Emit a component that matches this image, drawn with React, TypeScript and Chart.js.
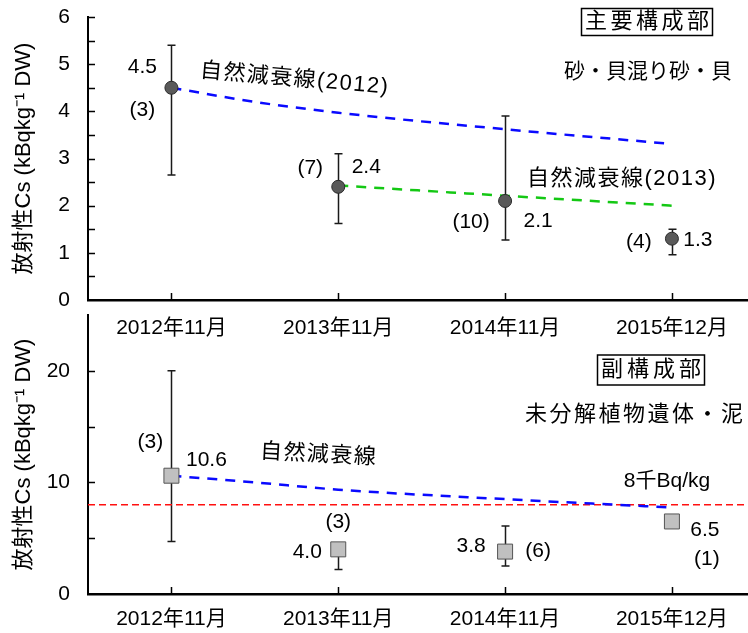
import React, { useEffect, useRef } from 'react';
import { Chart, registerables } from 'chart.js';

Chart.register(...registerables);

// ---------- data ----------
const categories = ['2012年11月', '2013年11月', '2014年11月', '2015年12月'];
const catPos = [0, 1, 2, 3];
const xMin = -0.5;
const xMax = 3.45;

// 主要構成部 (砂・貝混り砂・貝)
const mainMean = [4.5, 2.4, 2.1, 1.3];
const mainHigh = [5.4, 3.1, 3.9, 1.5];
const mainLow = [2.65, 1.62, 1.27, 0.96];
const mainN = [3, 7, 10, 4];
const decay2012X = [0, 0.5, 1, 2, 2.96];
const decay2012Y = [4.5, 4.2, 3.97, 3.62, 3.32];
const decay2013X = [1, 2, 3];
const decay2013Y = [2.43, 2.21, 2.0];

// 副構成部 (未分解植物遺体・泥)
const subMean = [10.6, 4.0, 3.8, 6.5];
const subHigh: (number | null)[] = [20.0, 4.5, 6.1, null];
const subLow: (number | null)[] = [4.7, 2.2, 2.5, null];
const subN = [3, 3, 6, 1];
const subDecayX = [0, 0.5, 1, 2, 2.98];
const subDecayY = [10.6, 10.0, 9.35, 8.5, 7.77];
const threshold = 8;

const yTitle = '放射性Cs (kBqkg⁻¹ DW)';
const FONT = '"Liberation Sans", "Noto Sans CJK JP", sans-serif';

type TextItem = {
  text: string; x: number; y: number; size: number;
  align?: CanvasTextAlign; rotate?: number; spacing?: number;
  box?: { w: number; h: number };
};

type Spec = {
  mean: number[]; high: (number | null)[]; low: (number | null)[]; n: number[];
  yMax: number; yStep: number; yLabelEvery: number; tickAtMax: boolean;
  pointStyle: string; pointRadius: number; pointFill: string; pointBorder: string;
  lines: { x: number[]; y: number[]; color: string; width: number; dash: number[] }[];
  valueOffsets: [number, number][]; nOffsets: [number, number][];
  texts: TextItem[];
  padTop: number; xHeight: number; tickPad: number;
};

function drawText(ctx: CanvasRenderingContext2D, t: TextItem) {
  ctx.save();
  ctx.font = `${t.size}px ${FONT}`;
  ctx.fillStyle = '#000';
  ctx.textAlign = t.align || 'center';
  ctx.textBaseline = 'middle';
  const sp = t.spacing || 0;
  (ctx as any).letterSpacing = sp + 'px';
  ctx.translate(t.x, t.y);
  if (t.rotate) ctx.rotate((t.rotate * Math.PI) / 180);
  const shift = (t.align || 'center') === 'center' ? sp / 2 : 0;
  ctx.fillText(t.text, shift, 0);
  if (t.box) {
    ctx.lineWidth = 1.5;
    ctx.strokeStyle = '#000';
    ctx.strokeRect(-t.box.w / 2, -t.box.h / 2, t.box.w, t.box.h);
  }
  ctx.restore();
}

function overlayPlugin(spec: Spec) {
  return {
    id: 'overlay',
    beforeDatasetsDraw(chart: any) {
      const { ctx, scales: { x, y } } = chart;
      ctx.save();
      ctx.strokeStyle = '#1a1a1a';
      ctx.lineWidth = 1.5;
      spec.high.forEach((h, i) => {
        const l = spec.low[i];
        if (h == null || l == null) return;
        const px = Math.round(x.getPixelForValue(catPos[i])) + 0.5;
        const yh = y.getPixelForValue(h);
        const yl = y.getPixelForValue(l);
        ctx.beginPath();
        ctx.moveTo(px, yh); ctx.lineTo(px, yl);
        ctx.moveTo(px - 4, yh); ctx.lineTo(px + 4, yh);
        ctx.moveTo(px - 4, yl); ctx.lineTo(px + 4, yl);
        ctx.stroke();
      });
      ctx.restore();
    },
    afterDraw(chart: any) {
      const { ctx, chartArea: ca, scales: { x, y } } = chart;
      ctx.save();
      ctx.strokeStyle = '#000';
      ctx.lineWidth = 1.5;
      ctx.beginPath();
      y.ticks.forEach((t: any) => {
        if (t.value <= y.min) return;
        if (t.value >= y.max && !spec.tickAtMax) return;
        const py = Math.round(y.getPixelForValue(t.value)) + 0.5;
        ctx.moveTo(ca.left, py); ctx.lineTo(ca.left + 7, py);
      });
      x.ticks.forEach((t: any) => {
        const px = Math.round(x.getPixelForValue(t.value)) + 0.5;
        ctx.moveTo(px, ca.bottom); ctx.lineTo(px, ca.bottom - 7);
      });
      ctx.stroke();
      ctx.restore();

      spec.mean.forEach((m, i) => {
        const px = x.getPixelForValue(catPos[i]);
        const py = y.getPixelForValue(m);
        const vo = spec.valueOffsets[i];
        const no = spec.nOffsets[i];
        drawText(ctx, { text: m.toFixed(1), x: px + vo[0], y: py + vo[1], size: 21 });
        drawText(ctx, { text: `(${spec.n[i]})`, x: px + no[0], y: py + no[1], size: 21 });
      });
      spec.texts.forEach((t) => drawText(ctx, t));
    },
  };
}

function buildConfig(spec: Spec): any {
  const datasets: any[] = [];
  spec.lines.forEach((l, k) =>
    datasets.push({
      type: 'line',
      data: l.x.map((xv, i) => ({ x: xv, y: l.y[i] })),
      borderColor: l.color,
      borderWidth: l.width,
      borderDash: l.dash,
      pointRadius: 0,
      fill: false,
      cubicInterpolationMode: 'monotone',
      order: 2 + k,
    })
  );
  datasets.push({
    type: 'line',
    data: catPos.map((c, i) => ({ x: c, y: spec.mean[i] })),
    showLine: false,
    pointStyle: spec.pointStyle,
    pointRadius: spec.pointRadius,
    pointBackgroundColor: spec.pointFill,
    pointBorderColor: spec.pointBorder,
    pointBorderWidth: 1,
    order: 0,
  });
  return {
    type: 'line',
    data: { datasets },
    options: {
      animation: false,
      responsive: false,
      maintainAspectRatio: false,
      layout: { autoPadding: false, padding: { top: spec.padTop, right: 1, left: 0, bottom: 0 } },
      plugins: { legend: { display: false }, tooltip: { enabled: false } },
      scales: {
        x: {
          type: 'linear',
          min: xMin,
          max: xMax,
          afterBuildTicks: (s: any) => { s.ticks = catPos.map((v) => ({ value: v })); },
          afterFit: (s: any) => {
            s.height = spec.xHeight;
            s.paddingLeft = 0; s.paddingRight = 0; s.paddingTop = 0; s.paddingBottom = 0;
          },
          grid: { display: false },
          border: { display: true, color: '#000', width: 2.5 },
          ticks: {
            autoSkip: false,
            maxRotation: 0,
            padding: spec.tickPad,
            color: '#000',
            font: { family: FONT, size: 21 },
            callback: (v: any) => categories[v] ?? '',
          },
        },
        y: {
          type: 'linear',
          min: 0,
          max: spec.yMax,
          afterFit: (s: any) => {
            s.width = 88;
            s.paddingLeft = 0; s.paddingRight = 0; s.paddingTop = 0; s.paddingBottom = 0;
          },
          grid: { display: false },
          border: { display: true, color: '#000', width: 2 },
          ticks: {
            autoSkip: false,
            stepSize: spec.yStep,
            padding: 10,
            color: '#000',
            font: { family: FONT, size: 21 },
            callback: (v: any) => (v % spec.yLabelEvery === 0 ? String(v) : ''),
          },
          title: {
            display: true,
            text: yTitle,
            color: '#000',
            font: { family: FONT, size: 22 },
            padding: { top: 11, bottom: 0 },
          },
        },
      },
    },
    plugins: [overlayPlugin(spec)],
  };
}

const mainSpec: Spec = {
  mean: mainMean, high: mainHigh, low: mainLow, n: mainN,
  yMax: 6, yStep: 0.5, yLabelEvery: 1, tickAtMax: true,
  pointStyle: 'circle', pointRadius: 6.5, pointFill: '#5a5a5a', pointBorder: '#2a2a2a',
  lines: [
    { x: decay2012X, y: decay2012Y, color: '#0a0aff', width: 2.5, dash: [10, 8] },
    { x: decay2013X, y: decay2013Y, color: '#14c814', width: 2.5, dash: [10, 8] },
  ],
  valueOffsets: [[-29, -20.5], [28, -20], [33, 20], [26, 2]],
  nOffsets: [[-29, 22.5], [-28, -19], [-34, 21], [-33, 4]],
  texts: [
    { text: '主要構成部', x: 647, y: 22, size: 22, spacing: 3.5, box: { w: 131, h: 27 } },
    { text: '砂・貝混り砂・貝', x: 648, y: 72, size: 21 },
    { text: '自然減衰線(2012)', x: 200, y: 71, size: 22, align: 'left', rotate: 5, spacing: 1.5 },
    { text: '自然減衰線(2013)', x: 527, y: 179, size: 22, align: 'left', spacing: 1.5 },
  ],
  padTop: 17, xHeight: 45, tickPad: 8,
};

const subSpec: Spec = {
  mean: subMean, high: subHigh, low: subLow, n: subN,
  yMax: 25, yStep: 5, yLabelEvery: 10, tickAtMax: false,
  pointStyle: 'rect', pointRadius: 10.6, pointFill: '#c0c0c0', pointBorder: '#555555',
  lines: [
    { x: subDecayX, y: subDecayY, color: '#0a0aff', width: 2.5, dash: [10, 8] },
    { x: [xMin, xMax], y: [threshold, threshold], color: '#ff1010', width: 1.5, dash: [7, 4] },
  ],
  valueOffsets: [[35, -16], [-31, 3], [-34, -5], [33, 8.5]],
  nOffsets: [[-21, -34], [0, -27], [33, 0], [35, 37.5]],
  texts: [
    { text: '副構成部', x: 651, y: 70, size: 22, spacing: 4, box: { w: 107, h: 30 } },
    { text: '未分解植物遺体・泥', x: 634, y: 115, size: 22, spacing: 2.5 },
    { text: '自然減衰線', x: 260, y: 152, size: 22, align: 'left', rotate: 3, spacing: 1.5 },
    { text: '8千Bq/kg', x: 667, y: 181, size: 21 },
  ],
  padTop: 15, xHeight: 39, tickPad: 5,
};

function Panel({ spec, top, height }: { spec: Spec; top: number; height: number }) {
  const ref = useRef<HTMLCanvasElement>(null);
  useEffect(() => {
    const chart = new Chart(ref.current as HTMLCanvasElement, buildConfig(spec));
    return () => chart.destroy();
  }, [spec]);
  return (
    <canvas
      ref={ref}
      width={748}
      height={height}
      style={{ position: 'absolute', left: 0, top, width: 748, height, display: 'block' }}
    />
  );
}

export default function App() {
  return (
    <div style={{ position: 'absolute', left: 0, top: 0, width: 748, height: 633, background: '#fff' }}>
      <Panel spec={mainSpec} top={0} height={345} />
      <Panel spec={subSpec} top={300} height={333} />
    </div>
  );
}
